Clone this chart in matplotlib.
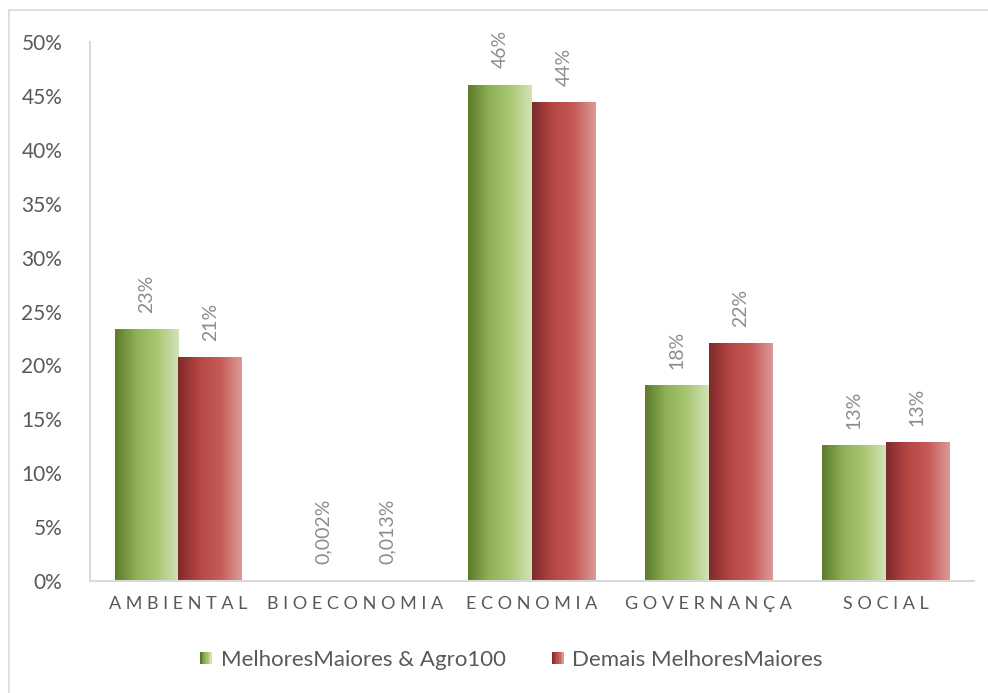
import matplotlib
matplotlib.use("Agg")
import matplotlib.pyplot as plt
import numpy as np
from matplotlib.colors import LinearSegmentedColormap
from matplotlib.patches import Rectangle
from matplotlib.legend_handler import HandlerBase

plt.rcParams['font.family'] = ['Lato', 'DejaVu Sans']

categories = ["AMBIENTAL", "BIOECONOMIA", "ECONOMIA", "GOVERNANÇA", "SOCIAL"]
series_names = ["MelhoresMaiores & Agro100", "Demais MelhoresMaiores"]
agro100 = [0.2335, 0.00002, 0.460, 0.1809, 0.1255]
demais = [0.2075, 0.00013, 0.444, 0.2205, 0.1283]
y_ticks = [0, 0.05, 0.10, 0.15, 0.20, 0.25, 0.30, 0.35, 0.40, 0.45, 0.50]

green_cmap = LinearSegmentedColormap.from_list(
    "green_grad", ["#5b7a2c", "#8fb155", "#a9c774", "#d3e3b6"])
red_cmap = LinearSegmentedColormap.from_list(
    "red_grad", ["#7e2a2a", "#b54644", "#c65b58", "#dc9a98"])

TEXT = "#595959"
GRID = "#d9d9d9"


def fmt(v):
    pct = v * 100
    if pct < 1:
        return f"{pct:.3f}%".replace(".", ",")
    return f"{pct:.0f}%"


fig = plt.figure(figsize=(9.88, 6.93), dpi=100)
ax = fig.add_axes([90 / 988, 1 - 581 / 693, 884 / 988, 539 / 693])

x = np.arange(len(categories))
width = 0.36
grad = np.linspace(0, 1, 256).reshape(1, -1)

for vals, offset, cmap in ((agro100, -width / 2, green_cmap),
                           (demais, width / 2, red_cmap)):
    bars = ax.bar(x + offset, vals, width, facecolor="none", edgecolor="none")
    for rect, v in zip(bars, vals):
        x0 = rect.get_x()
        x1 = x0 + rect.get_width()
        h = rect.get_height()
        if h > 0:
            ax.imshow(grad, cmap=cmap, extent=[x0, x1, 0, h],
                      aspect="auto", zorder=2, interpolation="bilinear")
        ax.annotate(fmt(v), (x0 + rect.get_width() / 2, h),
                    xytext=(0, 12), textcoords="offset points",
                    rotation=90, ha="center", va="bottom",
                    fontsize=14, color="#8c8c8c")

ax.set_xlim(-0.5, len(categories) - 0.5)
ax.set_ylim(0, 0.5)
ax.set_yticks(y_ticks)
ax.set_yticklabels([f"{t * 100:.0f}%" for t in y_ticks])
ax.set_xticks(x)
ax.set_xticklabels([" ".join(c) for c in categories])
ax.tick_params(axis="y", length=0, pad=20, labelsize=15, labelcolor=TEXT)
ax.tick_params(axis="x", length=0, pad=11, labelsize=13, labelcolor=TEXT)
for s in ("top", "right"):
    ax.spines[s].set_visible(False)
for s in ("left", "bottom"):
    ax.spines[s].set_color(GRID)
    ax.spines[s].set_linewidth(1.5)
ax.set_facecolor("none")


class GradientHandler(HandlerBase):
    def __init__(self, cmap):
        super().__init__()
        self.cmap = cmap

    def create_artists(self, legend, orig_handle, xdescent, ydescent,
                       width, height, fontsize, trans):
        n = 8
        side = height * 0.75
        x0 = width - side
        y0 = -ydescent + (height - side) / 2
        arts = []
        for i in range(n):
            r = Rectangle((x0 + i * side / n, y0), side / n, side,
                          facecolor=self.cmap(i / (n - 1)), edgecolor="none",
                          transform=trans)
            arts.append(r)
        return arts


h1 = Rectangle((0, 0), 1, 1)
h2 = Rectangle((0, 0), 1, 1)
fig.legend([h1, h2], series_names,
           handler_map={h1: GradientHandler(green_cmap),
                        h2: GradientHandler(red_cmap)},
           loc="center", bbox_to_anchor=(0.517, 1 - 660 / 693),
           ncol=2, frameon=False, fontsize=16, labelcolor=TEXT,
           handlelength=0.6, handletextpad=0.4, columnspacing=2.0)

# chart frame: only the top and left edges fall inside the canvas
fig.add_artist(Rectangle((9 / 988, -0.05), 1.1, 1 - 10 / 693 + 0.05,
                         transform=fig.transFigure, facecolor="none",
                         edgecolor=GRID, linewidth=1.2))

fig.savefig("out.png", dpi=100)
